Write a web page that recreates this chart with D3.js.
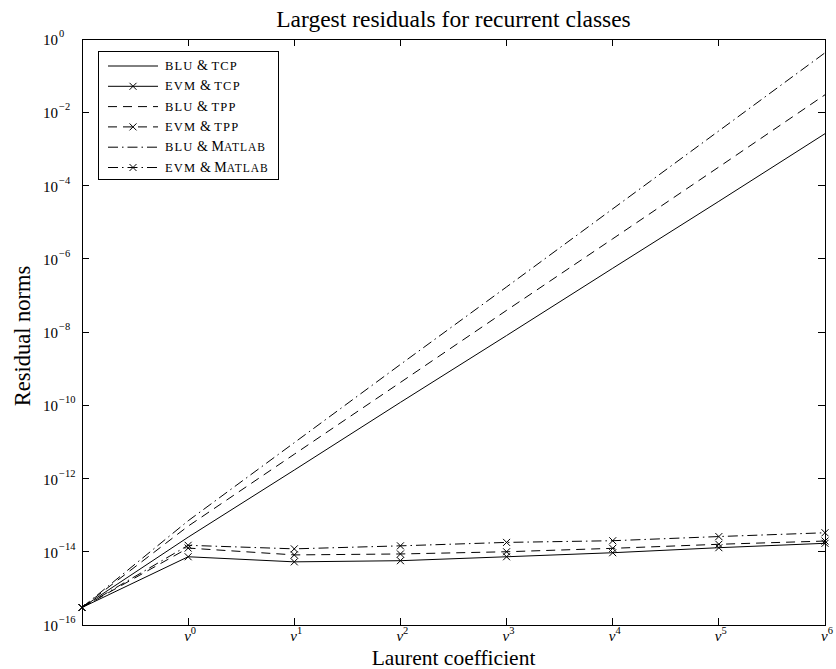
<!DOCTYPE html>
<html>
<head>
<meta charset="utf-8">
<script src="https://cdnjs.cloudflare.com/ajax/libs/d3/7.8.5/d3.min.js"></script>
<style>
  body { margin: 0; background: #fff; }
  svg { display: block; font-family: "Liberation Serif", "DejaVu Serif", serif; }
</style>
</head>
<body>
<svg id="chart" width="836" height="669"></svg>
<script>
// x index 0 is the starting value, 1..7 are v^0..v^6
let xIndex = [0, 1, 2, 3, 4, 5, 6, 7];
let xTickValues = [1, 2, 3, 4, 5, 6, 7];
let xTickExps = ['0', '1', '2', '3', '4', '5', '6'];
let yTickExps = [0, -2, -4, -6, -8, -10, -12, -14, -16];

let bluTcp = [3e-16, 2.5e-14, 1.7e-12, 1.2e-10, 8e-9, 5.5e-7, 3.7e-5, 2.6e-3];
let evmTcp = [3e-16, 7.3e-15, 5.3e-15, 5.7e-15, 7.3e-15, 9.4e-15, 1.29e-14, 1.7e-14];
let bluTpp = [3e-16, 5e-14, 4.6e-12, 4.2e-10, 3.9e-8, 3.5e-6, 3.2e-4, 3.0e-2];
let evmTpp = [3e-16, 1.26e-14, 8.2e-15, 8.7e-15, 1.0e-14, 1.24e-14, 1.6e-14, 1.96e-14];
let bluMat = [3e-16, 7e-14, 9.5e-12, 1.3e-9, 1.7e-7, 2.3e-5, 3.1e-3, 0.42];
let evmMat = [3e-16, 1.5e-14, 1.2e-14, 1.45e-14, 1.8e-14, 2.0e-14, 2.6e-14, 3.3e-14];

// label parts: [text, kind] kind 0 = normal, 1 = small caps, 2 = small caps after a capital
let series = [
  {values: bluTcp, dash: null, marker: false, label: [['BLU', 1], [' & ', 0], ['TCP', 1]]},
  {values: evmTcp, dash: null, marker: true, label: [['EVM', 1], [' & ', 0], ['TCP', 1]]},
  {values: bluTpp, dash: '9,6', marker: false, label: [['BLU', 1], [' & ', 0], ['TPP', 1]]},
  {values: evmTpp, dash: '9,6', marker: true, label: [['EVM', 1], [' & ', 0], ['TPP', 1]]},
  {values: bluMat, dash: '10,4,1.5,4', marker: false, label: [['BLU', 1], [' & ', 0], ['M', 0], ['ATLAB', 2]]},
  {values: evmMat, dash: '10,4,1.5,4', marker: true, label: [['EVM', 1], [' & ', 0], ['M', 0], ['ATLAB', 2]]}
];

let pLeft = 82, pRight = 825, pTop = 39, pBottom = 625;
let svg = d3.select('#chart');

let x = d3.scaleLinear().domain([0, 7]).range([pLeft, pRight]);
let y = d3.scaleLog().domain([1e-16, 1]).range([pBottom, pTop]);

let line = d3.line().x((d, i) => x(xIndex[i])).y(d => y(d));

let cross = function(g, cx, cy) {
  let s = 3.5;
  g.append('path')
    .attr('d', 'M' + (cx - s) + ',' + (cy - s) + 'L' + (cx + s) + ',' + (cy + s) +
               'M' + (cx - s) + ',' + (cy + s) + 'L' + (cx + s) + ',' + (cy - s))
    .attr('stroke', '#000').attr('stroke-width', 1).attr('fill', 'none');
}

// data lines
let plot = svg.append('g');
series.forEach(function(s) {
  plot.append('path')
    .attr('d', line(s.values))
    .attr('fill', 'none')
    .attr('stroke', '#000')
    .attr('stroke-width', 1)
    .attr('stroke-dasharray', s.dash);
  if (s.marker) {
    s.values.forEach(function(v, i) { cross(plot, x(xIndex[i]), y(v)); });
  }
});

// axes box
let tickLen = 7;
let axes = svg.append('g').attr('shape-rendering', 'crispEdges');
axes.append('rect')
  .attr('x', pLeft).attr('y', pTop)
  .attr('width', pRight - pLeft).attr('height', pBottom - pTop)
  .attr('fill', 'none').attr('stroke', '#000').attr('stroke-width', 1);

xTickValues.forEach(function(t) {
  axes.append('line').attr('x1', x(t)).attr('x2', x(t)).attr('y1', pBottom).attr('y2', pBottom - tickLen).attr('stroke', '#000');
  axes.append('line').attr('x1', x(t)).attr('x2', x(t)).attr('y1', pTop).attr('y2', pTop + tickLen).attr('stroke', '#000');
});
yTickExps.forEach(function(e) {
  let ty = y(Math.pow(10, e));
  axes.append('line').attr('x1', pLeft).attr('x2', pLeft + tickLen).attr('y1', ty).attr('y2', ty).attr('stroke', '#000');
  axes.append('line').attr('x1', pRight).attr('x2', pRight - tickLen).attr('y1', ty).attr('y2', ty).attr('stroke', '#000');
});

// y tick labels, 10^e
yTickExps.forEach(function(e) {
  let ty = y(Math.pow(10, e));
  let t = svg.append('text').attr('x', 43).attr('y', ty + 6).attr('font-size', 15);
  t.append('tspan').text('10');
  t.append('tspan').attr('dy', -8).attr('dx', 1).attr('font-size', 10.5).text(e < 0 ? '\u2212' + (-e) : e);
});

// x tick labels, v^k
xTickValues.forEach(function(t, i) {
  let lab = svg.append('text').attr('x', x(t) - 4).attr('y', 641).attr('font-size', 15);
  lab.append('tspan').attr('font-style', 'italic').text('v');
  lab.append('tspan').attr('dy', -7).attr('font-size', 10.5).text(xTickExps[i]);
});

// titles
svg.append('text').attr('x', (pLeft + pRight) / 2).attr('y', 27)
  .attr('text-anchor', 'middle').attr('font-size', 23.5)
  .text('Largest residuals for recurrent classes');
svg.append('text').attr('x', (pLeft + pRight) / 2).attr('y', 665)
  .attr('text-anchor', 'middle').attr('font-size', 21.5)
  .text('Laurent coefficient');
svg.append('text')
  .attr('transform', 'translate(30,' + ((pTop + pBottom) / 2 + 4) + ') rotate(-90)')
  .attr('text-anchor', 'middle').attr('font-size', 22.5)
  .text('Residual norms');

// legend
let lg = svg.append('g');
lg.append('rect').attr('x', 98).attr('y', 51).attr('width', 180).attr('height', 128)
  .attr('fill', '#fff').attr('stroke', '#000').attr('stroke-width', 1).attr('shape-rendering', 'crispEdges');
series.forEach(function(s, i) {
  let ry = 66 + i * 20.3;
  lg.append('line').attr('x1', 108).attr('x2', 158).attr('y1', ry).attr('y2', ry)
    .attr('stroke', '#000').attr('stroke-width', 1).attr('stroke-dasharray', s.dash);
  if (s.marker) cross(lg, 133, ry);
  let t = lg.append('text').attr('x', 165).attr('y', ry + 4);
  s.label.forEach(function(p) {
    let size = p[1] == 1 ? 12.5 : (p[1] == 2 ? 11.5 : 14);
    let spacing = p[1] == 1 ? 1.2 : (p[1] == 2 ? 1 : 0);
    t.append('tspan').attr('font-size', size)
      .attr('letter-spacing', spacing)
      .attr('xml:space', 'preserve')
      .text(p[0]);
  });
});
</script>
</body>
</html>
